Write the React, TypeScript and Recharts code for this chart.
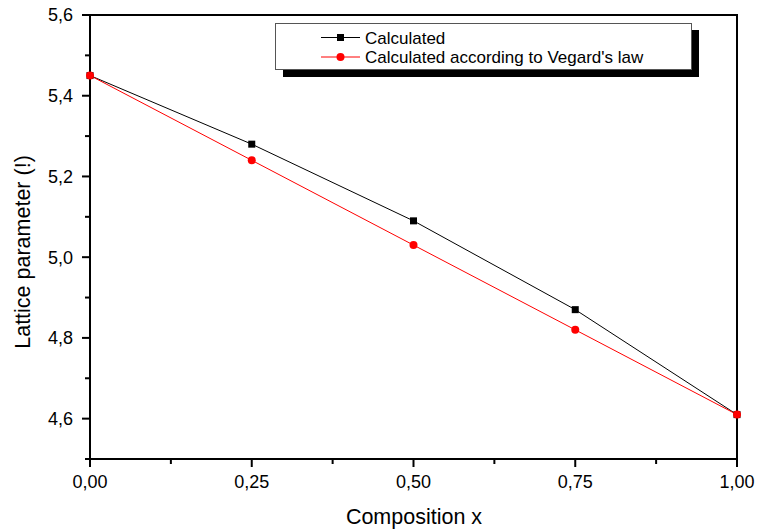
import React from 'react';
import { LineChart, Line, XAxis, YAxis, ReferenceArea, Label } from 'recharts';

const compositions = [0, 0.25, 0.5, 0.75, 1];
const calculated = [5.45, 5.28, 5.09, 4.87, 4.61];
const vegard = [5.45, 5.24, 5.03, 4.82, 4.61];
const xMajorTicks = [0, 0.25, 0.5, 0.75, 1];
const xAllTicks = [0, 0.125, 0.25, 0.375, 0.5, 0.625, 0.75, 0.875, 1];
const yMajorTicks = [4.6, 4.8, 5.0, 5.2, 5.4, 5.6];
const yAllTicks = [4.5, 4.6, 4.7, 4.8, 4.9, 5.0, 5.1, 5.2, 5.3, 5.4, 5.5, 5.6];
const seriesNames = ['Calculated', "Calculated according to Vegard's law"];

const data = compositions.map((x, i) => ({ x, calc: calculated[i], veg: vegard[i] }));

const FONT = '"Liberation Sans", Arial, sans-serif';

const isMajor = (v: number, list: number[]) => list.some((m) => Math.abs(m - v) < 1e-6);
const fmt = (v: number, d: number) => v.toFixed(d).replace('.', ',');

const XTick = (props: any) => {
  const { x, y, payload } = props;
  const major = isMajor(payload.value, xMajorTicks);
  return (
    <g>
      <line x1={x} x2={x} y1={y} y2={y + (major ? 8 : 5)} stroke="#000" strokeWidth={2} />
      {major && (
        <text x={x} y={y + 29} textAnchor="middle" fontSize={18} fontFamily={FONT} fill="#000">
          {fmt(payload.value, 2)}
        </text>
      )}
    </g>
  );
};

const YTick = (props: any) => {
  const { x, y, payload } = props;
  const major = isMajor(payload.value, yMajorTicks);
  return (
    <g>
      <line x1={x - (major ? 8 : 5)} x2={x} y1={y} y2={y} stroke="#000" strokeWidth={2} />
      {major && (
        <text x={x - 17} y={y} dy="0.36em" textAnchor="end" fontSize={18} fontFamily={FONT} fill="#000">
          {fmt(payload.value, 1)}
        </text>
      )}
    </g>
  );
};

const LegendBox = () => (
  <svg width={430} height={60} style={{ display: 'block' }}>
    <rect x={8} y={7} width={416} height={47} fill="#000" />
    <rect x={0.5} y={0.5} width={416} height={46} fill="#fff" stroke="#555" strokeWidth={1} />
    <line x1={46} x2={85} y1={14.5} y2={14.5} stroke="#000" strokeWidth={1} />
    <rect x={62} y={11} width={7} height={7} fill="#000" />
    <text x={90} y={14.5} dy="0.36em" fontSize={17} fontFamily={FONT} fill="#000">{seriesNames[0]}</text>
    <line x1={46} x2={85} y1={34} y2={34} stroke="#ff0000" strokeWidth={1} />
    <circle cx={65.5} cy={34} r={4} fill="#ff0000" />
    <text x={90} y={34} dy="0.36em" fontSize={17} fontFamily={FONT} fill="#000">{seriesNames[1]}</text>
  </svg>
);

const SquareDot = (props: any) => {
  const { cx, cy } = props;
  return <rect x={cx - 3.5} y={cy - 3.5} width={7} height={7} fill="#000" />;
};

export default function App() {
  return (
    <div style={{ position: 'absolute', left: 0, top: 0, width: 759, height: 531, background: '#fff' }}>
      <LineChart width={759} height={531} data={data} margin={{ top: 15, right: 22, left: 0, bottom: 0 }}>
        <XAxis
          dataKey="x"
          type="number"
          domain={[0, 1]}
          ticks={xAllTicks}
          interval={0}
          tick={<XTick />}
          tickLine={false}
          tickSize={0}
          tickMargin={0}
          axisLine={{ stroke: '#000', strokeWidth: 2 }}
          height={72}
        >
          <Label
            content={() => (
              <text x={414} y={524} textAnchor="middle" fontSize={21.5} fontFamily={FONT} fill="#000">
                Composition x
              </text>
            )}
          />
        </XAxis>
        <YAxis
          type="number"
          domain={[4.5, 5.6]}
          ticks={yAllTicks}
          interval={0}
          tick={<YTick />}
          tickLine={false}
          tickSize={0}
          tickMargin={0}
          axisLine={{ stroke: '#000', strokeWidth: 2 }}
          width={90}
        >
          <Label
            content={() => (
              <text
                x={30}
                y={252}
                transform="rotate(-90 30 252)"
                textAnchor="middle"
                fontSize={21.5}
                fontFamily={FONT}
                fill="#000"
              >
                Lattice parameter (!)
              </text>
            )}
          />
        </YAxis>
        <ReferenceArea x1={0} x2={1} y1={4.5} y2={5.6} fill="none" stroke="#000" strokeWidth={2} fillOpacity={0} />
        <Line
          dataKey="calc"
          name={seriesNames[0]}
          stroke="#000"
          strokeWidth={1}
          dot={<SquareDot />}
          isAnimationActive={false}
        />
        <Line
          dataKey="veg"
          name={seriesNames[1]}
          stroke="#ff0000"
          strokeWidth={1}
          dot={{ r: 4, fill: '#ff0000', stroke: 'none' }}
          isAnimationActive={false}
        />
      </LineChart>
      <div style={{ position: 'absolute', left: 275, top: 23 }}>
        <LegendBox />
      </div>
    </div>
  );
}
